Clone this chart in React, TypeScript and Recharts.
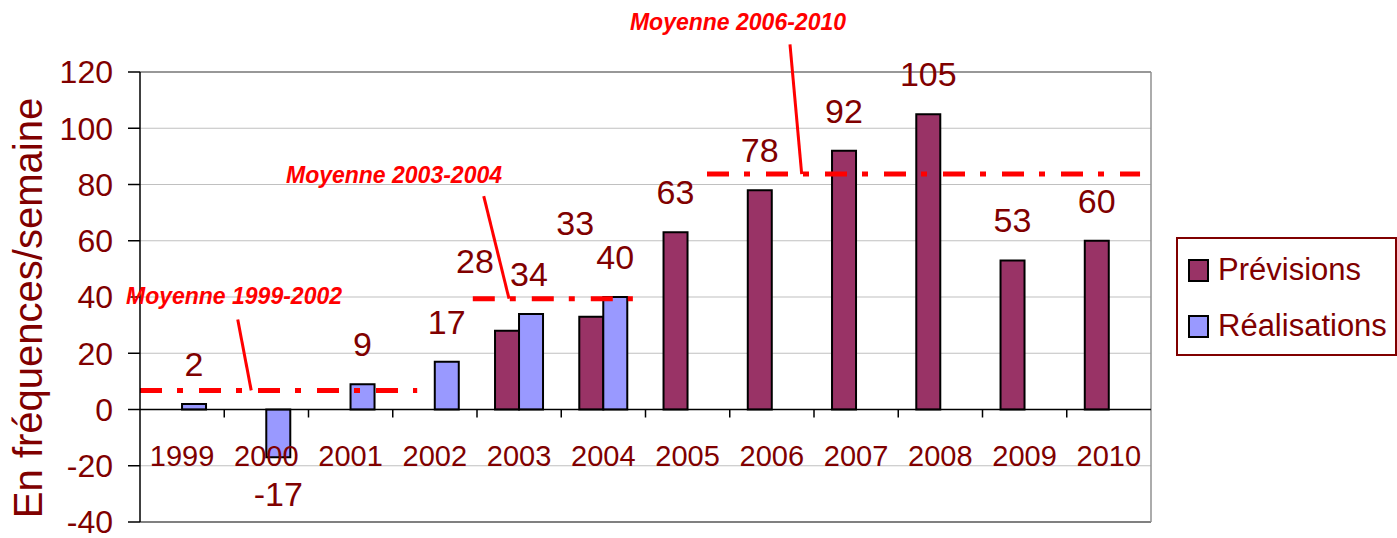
import React from "react"
import {
    BarChart,
    Bar,
    XAxis,
    YAxis,
    CartesianGrid,
    Legend,
    LabelList,
    ReferenceLine,
    ReferenceDot,
} from "recharts"

// values
const years = ["1999", "2000", "2001", "2002", "2003", "2004", "2005", "2006", "2007", "2008", "2009", "2010"]
const previsions = [null, null, null, null, 28, 33, 63, 78, 92, 105, 53, 60]
const realisations = [2, -17, 9, 17, 34, 40, null, null, null, null, null, null]
const yTicks = [-40, -20, 0, 20, 40, 60, 80, 100, 120]

// average bars drawn over the chart (x in category units from left edge)
const averages = [
    { label: "Moyenne 1999-2002", value: 6.8, from: 0, to: 3.29 },
    { label: "Moyenne 2003-2004", value: 39.4, from: 3.95, to: 5.85 },
    { label: "Moyenne 2006-2010", value: 83.7, from: 6.73, to: 11.87 },
]
// annotation text anchors and leader lines for each average
const notes = [
    { x: 1.116, y: 37.6, lx1: 1.16, ly1: 32, lx2: 1.32, ly2: 6.8 },
    { x: 3.015, y: 80.6, lx1: 4.08, ly1: 75.9, lx2: 4.38, ly2: 39.4 },
    { x: 7.098, y: 135.1, lx1: 7.715, ly1: 129.8, lx2: 7.854, ly2: 83.7 },
]

const data = years.map((year, i) => ({ year, prev: previsions[i], real: realisations[i] }))

const W = 1397
const H = 538
const PLOT_LEFT = 140
const PLOT_RIGHT = 1151
const PLOT_TOP = 72
const PLOT_BOTTOM = 522
const Y_MIN = -40
const Y_MAX = 120
const BAND = (PLOT_RIGHT - PLOT_LEFT) / years.length
const ZERO_Y = PLOT_TOP + ((PLOT_BOTTOM - PLOT_TOP) * Y_MAX) / (Y_MAX - Y_MIN)

const FONT = '"Liberation Sans", Arial, sans-serif'
const MAROON = "#800000"
const RED = "#FF0000"

// labels that were dragged by hand in the original
const labelNudge: Record<string, [number, number]> = {
    "prev-2003": [-32, -30],
    "prev-2004": [-16, -54],
    "real-2003": [-2, 0],
}

const makeLabel = (key: string) => {
    // eslint-disable-next-line
    return (props: any) => {
        const { x, y, width, height, value } = props
        if (value === null || value === undefined) return null
        const cat = years[Math.floor((x + width / 2 - PLOT_LEFT) / BAND)]
        const top = Math.min(y, y + height)
        const bottom = Math.max(y, y + height)
        const [dx, dy] = labelNudge[`${key}-${cat}`] || [0, 0]
        const ty = value < 0 ? bottom + 49 : top - 28
        return (
            <text
                x={x + width / 2 + dx}
                y={ty + dy}
                textAnchor="middle"
                fill={MAROON}
                fontSize={34}
                fontFamily={FONT}
            >
                {value}
            </text>
        )
    }
}

// eslint-disable-next-line
const YearTick = (props: any) => {
    const { x, payload, index, visibleTicksCount } = props
    return (
        <g>
            <text x={x} y={ZERO_Y + 56} textAnchor="middle" fill={MAROON} fontSize={29} fontFamily={FONT}>
                {payload.value}
            </text>
            {index < visibleTicksCount - 1 && (
                <line x1={x + BAND / 2} x2={x + BAND / 2} y1={ZERO_Y} y2={ZERO_Y + 8} stroke="#000" strokeWidth={1.5} />
            )}
        </g>
    )
}

// eslint-disable-next-line
const renderLegend = ({ payload }: any) => (
    <div
        style={{
            border: `2px solid ${MAROON}`,
            padding: "3px 0 0 10px",
            background: "#fff",
            width: 221,
            boxSizing: "border-box",
        }}
    >
        {/* eslint-disable-next-line */}
        {payload.map((p: any) => (
            <div key={p.value} style={{ display: "flex", alignItems: "center", height: 56 }}>
                <span
                    style={{
                        width: 17,
                        height: 19,
                        background: p.color,
                        border: "2px solid #000",
                        marginRight: 9,
                        display: "inline-block",
                    }}
                />
                <span style={{ fontFamily: FONT, fontSize: 31, color: MAROON }}>{p.value}</span>
            </div>
        ))}
    </div>
)

const noteLabel = (text: string) => {
    // eslint-disable-next-line
    return (props: any) => {
        const { viewBox } = props
        return (
            <text
                x={viewBox.x + viewBox.width / 2}
                y={viewBox.y + viewBox.height / 2}
                textAnchor="middle"
                fill={RED}
                fontSize={23}
                fontWeight="bold"
                fontStyle="italic"
                fontFamily={FONT}
            >
                {text}
            </text>
        )
    }
}

const Y_LABEL_X = 28
const Y_LABEL_Y = (PLOT_TOP + PLOT_BOTTOM) / 2 + 11

const yLabel = () => (
    <text
        x={Y_LABEL_X}
        y={Y_LABEL_Y}
        transform={`rotate(-90 ${Y_LABEL_X} ${Y_LABEL_Y})`}
        textAnchor="middle"
        dominantBaseline="central"
        fill={MAROON}
        fontSize={40}
        fontFamily={FONT}
    >
        En fréquences/semaine
    </text>
)

export default function App() {
    return (
        <div style={{ position: "absolute", left: 0, top: 0, width: W, height: H, background: "#fff" }}>
            <BarChart
                width={W}
                height={H}
                data={data}
                margin={{ top: PLOT_TOP, right: W - PLOT_RIGHT, bottom: H - PLOT_BOTTOM - 1, left: 0 }}
                barCategoryGap="21.4%"
                barGap={0}
            >
                <CartesianGrid vertical={false} stroke="#c0c0c0" strokeWidth={1.2} />
                <XAxis
                    xAxisId="cat"
                    dataKey="year"
                    height={1}
                    axisLine={false}
                    tickLine={false}
                    interval={0}
                    tick={<YearTick />}
                />
                <XAxis
                    xAxisId="num"
                    type="number"
                    dataKey={() => 0}
                    domain={[0, years.length]}
                    hide
                    allowDataOverflow
                />
                <YAxis
                    width={PLOT_LEFT}
                    domain={[Y_MIN, Y_MAX]}
                    ticks={yTicks}
                    interval={0}
                    axisLine={{ stroke: "#000", strokeWidth: 1.5 }}
                    tickLine={{ stroke: "#000", strokeWidth: 1.5 }}
                    tickSize={12}
                    tickMargin={15}
                    tick={{ fill: MAROON, fontSize: 32, fontFamily: FONT }}
                    label={{ content: yLabel }}
                />
                <ReferenceLine xAxisId="cat" y={Y_MAX} stroke="#808080" strokeWidth={1.5} />
                <ReferenceLine xAxisId="cat" y={Y_MIN} stroke="#808080" strokeWidth={2} />
                <ReferenceLine xAxisId="num" x={years.length} stroke="#909090" strokeWidth={1.5} ifOverflow="visible" />
                <ReferenceLine xAxisId="cat" y={0} stroke="#000" strokeWidth={1.5} />
                <Bar
                    xAxisId="cat"
                    dataKey="prev"
                    name="Prévisions"
                    fill="#993366"
                    stroke="#000"
                    strokeWidth={2}
                    isAnimationActive={false}
                >
                    <LabelList dataKey="prev" content={makeLabel("prev")} />
                </Bar>
                <Bar
                    xAxisId="cat"
                    dataKey="real"
                    name="Réalisations"
                    fill="#9999FF"
                    stroke="#000"
                    strokeWidth={2}
                    isAnimationActive={false}
                >
                    <LabelList dataKey="real" content={makeLabel("real")} />
                </Bar>
                {averages.map((a) => (
                    <ReferenceLine
                        key={a.label}
                        xAxisId="num"
                        segment={[
                            { x: a.from, y: a.value },
                            { x: a.to, y: a.value },
                        ]}
                        stroke={RED}
                        strokeWidth={5}
                        strokeDasharray="22 15 6 16"
                        ifOverflow="visible"
                    />
                ))}
                {notes.map((n, i) => (
                    <ReferenceLine
                        key={`lead-${i}`}
                        xAxisId="num"
                        segment={[
                            { x: n.lx1, y: n.ly1 },
                            { x: n.lx2, y: n.ly2 },
                        ]}
                        stroke={RED}
                        strokeWidth={3}
                        ifOverflow="visible"
                    />
                ))}
                {notes.map((n, i) => (
                    <ReferenceDot
                        key={`note-${i}`}
                        xAxisId="num"
                        x={n.x}
                        y={n.y}
                        r={1}
                        fill="none"
                        stroke="none"
                        ifOverflow="visible"
                        label={{ content: noteLabel(averages[i].label) }}
                    />
                ))}
                <Legend
                    layout="horizontal"
                    verticalAlign="middle"
                    align="center"
                    content={renderLegend}
                    wrapperStyle={{ left: 1176, top: 237, width: 221 }}
                />
            </BarChart>
        </div>
    )
}
